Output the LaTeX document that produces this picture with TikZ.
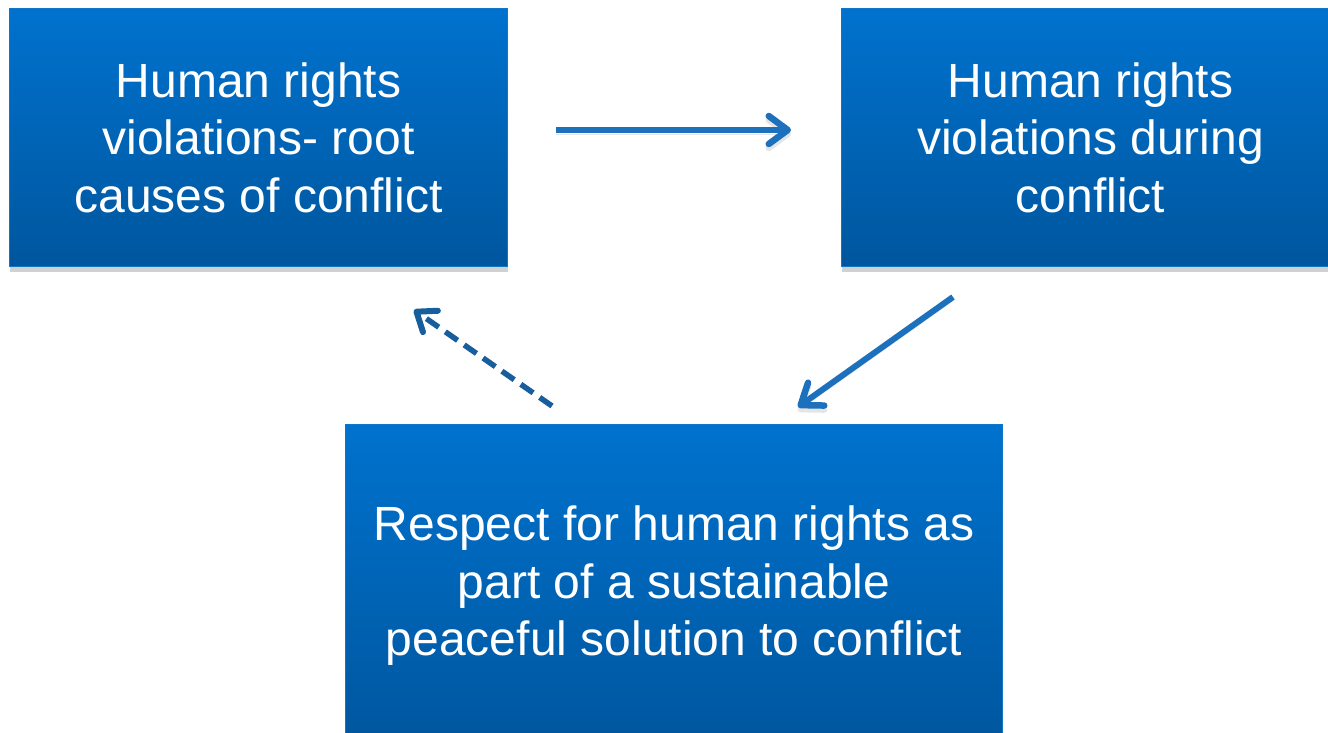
\documentclass[tikz,border=0pt]{standalone}
\usepackage{fontspec}
\setmainfont{Liberation Sans}
\usetikzlibrary{arrows.meta,shadows}
\definecolor{boxtop}{RGB}{0,114,206}
\definecolor{boxbot}{RGB}{0,86,158}
\definecolor{boxline}{RGB}{16,118,200}
\definecolor{arrowblue}{RGB}{28,112,188}
\definecolor{arrowdark}{RGB}{24,94,156}
\begin{document}
\begin{tikzpicture}[x=1pt,y=-1pt,
  box/.style={rectangle, top color=boxtop, bottom color=boxbot, draw=boxline,
    line width=1.2pt, text=white, align=center,
    font=\fontsize{48}{57.5}\selectfont, inner sep=0pt, anchor=north west,
    general shadow={shadow xshift=0pt, shadow yshift=-5pt, fill=black, opacity=0.18}},
  link/.style={line width=6pt, arrowblue,
    -{Straight Barb[length=19pt,width=28pt,round,line width=6.5pt]},
    preaction={draw=black, opacity=0.10, transform canvas={yshift=-4pt}}},
  dlink/.style={line width=5.5pt, arrowdark, dash pattern=on 15pt off 8pt,
    -{Straight Barb[length=17pt,width=26pt,round,line width=6pt]}},
]
\useasboundingbox (0,0) rectangle (1328,733);

\node[box, minimum width=498pt, minimum height=258pt] (b1) at (9,8)
  {Human rights\\violations- root\\causes of conflict};
\node[box, minimum width=498pt, minimum height=258pt] (b2) at (841,8)
  {Human rights\\violations during\\conflict};
\node[box, minimum width=657pt, minimum height=322pt] (b3) at (345,424)
  {Respect for human rights as\\part of a sustainable\\peaceful solution to conflict};

\coordinate (a1s) at (556,130);
\coordinate (a1e) at (791,130);
\coordinate (a2s) at (953,297);
\coordinate (a2e) at (798,407);
\coordinate (a3s) at (552,406);
\coordinate (a3e) at (414,310);

\draw[link] (a1s) -- (a1e);
\draw[link] (a2s) -- (a2e);
\draw[dlink] (a3s) -- (a3e);
\end{tikzpicture}
\end{document}
